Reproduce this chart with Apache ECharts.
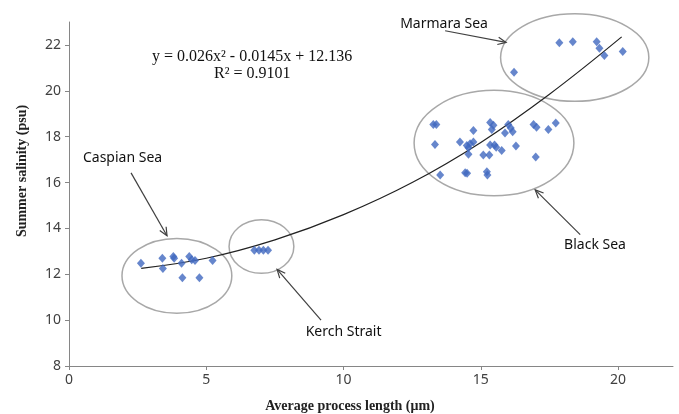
<!DOCTYPE html>
<html>
<head>
<meta charset="utf-8">
<script src="https://cdn.jsdelivr.net/npm/echarts@6/dist/echarts.min.js"></script>
<style>
  html, body { margin: 0; padding: 0; background: #fff; }
  #chart { width: 679px; height: 414px; }
</style>
</head>
<body>
<div id="chart"></div>
<script>
// data points  [process length, salinity]
var caspianSea = [
  [2.62, 12.48], [3.40, 12.70], [3.42, 12.25], [3.80, 12.77], [3.83, 12.70],
  [4.10, 12.48], [4.13, 11.85], [4.38, 12.77], [4.47, 12.63], [4.59, 12.60],
  [4.75, 11.85], [5.23, 12.60]
];
var kerchStrait = [[6.75, 13.05], [6.92, 13.05], [7.08, 13.05], [7.25, 13.05]];
var blackSea = [
  [13.27, 18.53], [13.38, 18.53], [13.33, 17.66], [13.52, 16.33], [14.24, 17.77],
  [14.43, 16.43], [14.50, 16.40], [14.73, 18.27], [14.73, 17.77], [14.49, 17.62],
  [14.61, 17.69], [14.55, 17.52], [14.55, 17.23], [15.09, 17.20], [15.31, 17.20],
  [15.22, 16.47], [15.24, 16.33], [15.34, 18.62], [15.46, 18.50], [15.40, 18.31],
  [15.34, 17.64], [15.50, 17.64], [15.56, 17.54], [15.76, 17.40], [15.88, 18.16],
  [16.00, 18.53], [16.09, 18.38], [16.16, 18.21], [16.28, 17.59], [16.92, 18.53],
  [17.03, 18.41], [17.00, 17.11], [17.46, 18.31], [17.73, 18.60]
];
var marmaraSea = [
  [16.21, 20.81], [17.86, 22.10], [18.35, 22.14], [19.22, 22.14], [19.32, 21.85],
  [19.50, 21.54], [20.17, 21.71]
];

// polynomial trend line
var trendX = [2.63, 5, 7.5, 10, 12.5, 15, 17.5, 20.13];
var trendY = [12.26, 12.70, 13.50, 14.60, 16.00, 17.75, 19.85, 22.35];

// tick labels
var xTicks = [0, 5, 10, 15, 20];
var yTicks = [8, 10, 12, 14, 16, 18, 20, 22];

// annotations (data units): group name, label position, arrow start -> tip, ellipse centre + radii
var groupNames = ['Marmara Sea', 'Caspian Sea', 'Kerch Strait', 'Black Sea'];
var labelPos = [[13.66, 22.92], [1.95, 17.07], [10.0, 9.48], [19.16, 13.29]];
var arrowLines = [[13.70, 22.62, 15.92, 22.11], [2.26, 16.42, 3.57, 13.68],
                  [9.18, 10.0, 7.58, 12.21], [18.62, 13.73, 16.98, 15.68]];
var ellipses = [[18.42, 21.45, 2.70, 1.91], [3.93, 11.93, 2.0, 1.63],
                [7.01, 13.21, 1.18, 1.17], [15.48, 17.72, 2.91, 2.30]];

var equationText = 'y = 0.026x\u00b2 - 0.0145x + 12.136';
var r2Text = 'R\u00b2 = 0.9101';

var chart = echarts.init(document.getElementById('chart'));

var dotStyle = { color: '#4068bf' };

function pointSeries(name, data) {
  return {
    name: name,
    type: 'scatter',
    data: data,
    symbol: 'diamond',
    symbolSize: [8, 9],
    itemStyle: dotStyle,
    z: 3
  };
}

var option = {
  backgroundColor: '#fff',
  animation: false,
  textStyle: { fontFamily: 'Noto Sans' },
  grid: { left: 69, right: 6, top: 22, bottom: 48, outerBoundsMode: 'none' },
  xAxis: {
    type: 'value',
    min: 0,
    max: 22,
    interval: 5,
    name: 'Average process length (\u03bcm)',
    nameLocation: 'middle',
    nameGap: 33,
    nameTextStyle: {
      fontFamily: 'Liberation Serif', fontWeight: 'bold', fontSize: 14, color: '#222',
      padding: [0, 42, 0, 0]
    },
    splitLine: { show: false },
    axisLine: { lineStyle: { color: '#868686', width: 1 } },
    axisTick: { length: 4, lineStyle: { color: '#868686' }, customValues: xTicks },
    axisLabel: { color: '#404040', fontSize: 14, margin: 7, customValues: xTicks }
  },
  yAxis: {
    type: 'value',
    min: 8,
    max: 23,
    interval: 2,
    name: 'Summer salinity (psu)',
    nameLocation: 'middle',
    nameGap: 40,
    nameTextStyle: {
      fontFamily: 'Liberation Serif', fontWeight: 'bold', fontSize: 14, color: '#222',
      padding: [0, 0, 0, 46]
    },
    splitLine: { show: false },
    axisLine: { show: true, lineStyle: { color: '#868686', width: 1 } },
    axisTick: { show: true, length: 4, lineStyle: { color: '#868686' }, customValues: yTicks },
    axisLabel: { color: '#404040', fontSize: 14, margin: 8, customValues: yTicks }
  },
  graphic: [
    {
      type: 'text', left: 152, top: 49,
      style: { text: equationText, font: '16px "Liberation Serif"', fill: '#111' }
    },
    {
      type: 'text', left: 214, top: 66,
      style: { text: r2Text, font: '16px "Liberation Serif"', fill: '#111' }
    }
  ],
  series: [
    {
      name: 'trend',
      type: 'line',
      data: trendX.map(function (x, i) { return [x, trendY[i]]; }),
      smooth: 0.4,
      showSymbol: false,
      lineStyle: { color: '#222', width: 1.2 },
      z: 2
    },
    pointSeries('Caspian Sea', caspianSea),
    pointSeries('Kerch Strait', kerchStrait),
    pointSeries('Black Sea', blackSea),
    pointSeries('Marmara Sea', marmaraSea),
    {
      // grey ellipses round each sea
      type: 'custom',
      data: ellipses,
      renderItem: function (params, api) {
        var c = api.coord([api.value(0), api.value(1)]);
        var s = api.size([api.value(2), api.value(3)]);
        return {
          type: 'ellipse',
          shape: { cx: c[0], cy: c[1], rx: s[0], ry: s[1] },
          style: { fill: 'none', stroke: '#a8a8a8', lineWidth: 1.5 }
        };
      },
      z: 1
    },
    {
      // arrows from labels to ellipses
      type: 'custom',
      data: arrowLines,
      renderItem: function (params, api) {
        var p0 = api.coord([api.value(0), api.value(1)]);
        var p1 = api.coord([api.value(2), api.value(3)]);
        var ang = Math.atan2(p1[1] - p0[1], p1[0] - p0[0]);
        var h = 9, w = 0.42;
        var a1 = [p1[0] - h * Math.cos(ang - w), p1[1] - h * Math.sin(ang - w)];
        var a2 = [p1[0] - h * Math.cos(ang + w), p1[1] - h * Math.sin(ang + w)];
        var st = { stroke: '#404040', lineWidth: 1.2, fill: 'none' };
        return {
          type: 'group',
          children: [
            { type: 'line', shape: { x1: p0[0], y1: p0[1], x2: p1[0], y2: p1[1] }, style: st },
            { type: 'polyline', shape: { points: [a1, p1, a2] }, style: st }
          ]
        };
      },
      z: 4
    },
    {
      // sea names
      type: 'custom',
      data: labelPos.map(function (p, i) { return [p[0], p[1], i]; }),
      renderItem: function (params, api) {
        var c = api.coord([api.value(0), api.value(1)]);
        return {
          type: 'text',
          x: c[0],
          y: c[1],
          style: {
            text: groupNames[api.value(2)],
            fill: '#111',
            fontSize: 14,
            fontFamily: 'Noto Sans',
            align: 'center',
            verticalAlign: 'middle'
          }
        };
      },
      z: 5
    }
  ]
};

chart.setOption(option);
</script>
</body>
</html>
